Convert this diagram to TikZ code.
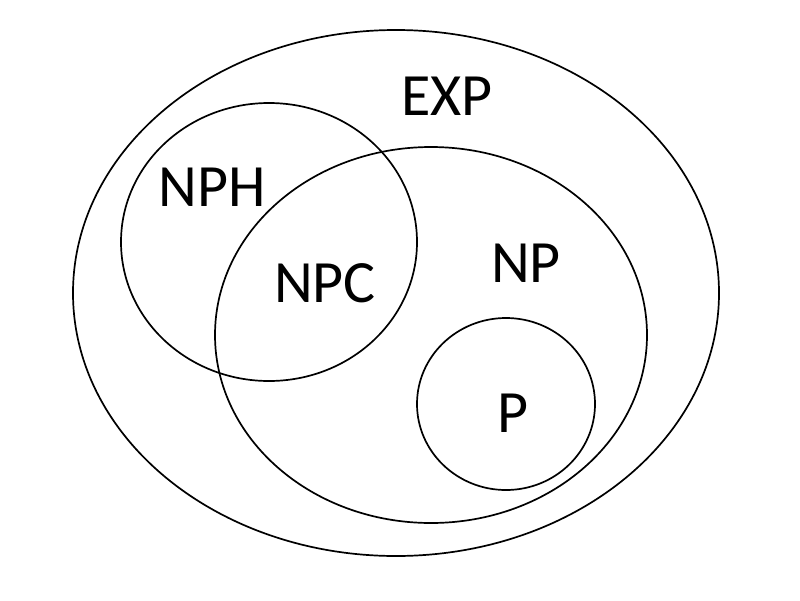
\documentclass[tikz,border=0pt]{standalone}
\usepackage{fontspec}
\setmainfont{Carlito}
\usepackage{tikz}
\usetikzlibrary{positioning}
\tikzset{
  setline/.style={draw=black, line width=1.7pt},
  setlabel/.style={font=\fontsize{60}{72}\selectfont, inner sep=0pt, text=black}
}
\begin{document}
\begin{tikzpicture}[x=1pt, y=-1pt]
  \useasboundingbox (0,0) rectangle (800,600);
  % outer set
  \draw[setline] (396,293) ellipse [x radius=323, y radius=263];
  % NP-hard
  \draw[setline] (269,242) ellipse [x radius=148, y radius=139];
  % NP
  \draw[setline] (431,335) ellipse [x radius=216, y radius=188];
  % P
  \draw[setline] (506,404) ellipse [x radius=89, y radius=86];
  % labels
  \node[setlabel] (exp) at (447,96) {EXP};
  \node[setlabel] (nph) at (212,187) {NPH};
  \node[setlabel] (npc) at (325,283) {NPC};
  \node[setlabel] (np) at (526,263) {NP};
  \node[setlabel] (p) at (513,413) {P};
\end{tikzpicture}
\end{document}
